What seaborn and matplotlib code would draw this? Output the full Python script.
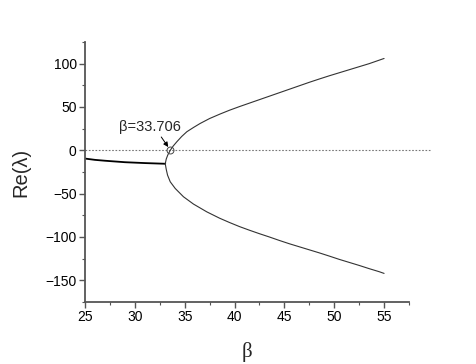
import matplotlib
matplotlib.use("Agg")
import matplotlib.pyplot as plt
import seaborn as sns
import pandas as pd
from matplotlib.ticker import MultipleLocator

# Data
beta_pre = [25.0, 26.0, 27.0, 29.0, 31.0, 33.05]
re_pre = [-9.5, -11.0, -12.0, -13.7, -14.7, -15.5]

beta_up = [33.05, 33.15, 33.3, 33.55, 33.85, 34.22, 34.7, 35.22, 35.9, 36.55, 37.5, 38.55,
           39.5, 40.5, 41.5, 42.5, 43.5, 44.5, 45.5, 46.5, 47.5, 48.5, 49.5, 50.5, 51.5,
           52.5, 53.5, 54.5, 55.0]
re_up = [-15.5, -10.0, -5.5, 0.0, 5.0, 10.0, 16.0, 21.5, 26.5, 31.0, 36.7, 41.9,
         46.3, 50.5, 54.5, 58.5, 62.5, 66.5, 70.5, 74.5, 78.5, 82.3, 86.0, 89.5, 93.0,
         96.5, 100.0, 104.0, 106.0]

beta_low = [33.05, 33.15, 33.28, 33.55, 34.05, 34.88, 35.88, 37.22, 38.5,
            39.5, 40.5, 41.5, 42.5, 43.5, 44.5, 45.5, 46.5, 47.5, 48.5, 49.5, 50.5, 51.5,
            52.5, 53.5, 54.5, 55.0]
re_low = [-15.5, -22.0, -28.6, -36.3, -44.0, -53.6, -62.0, -71.0, -78.3,
          -83.3, -88.0, -92.2, -96.2, -100.0, -104.0, -107.8, -111.3, -114.8, -118.3, -122.0, -125.8, -129.3,
          -132.8, -136.5, -140.0, -142.0]

beta_c = 33.55
label_text = "β=33.706"
xticks = [25, 30, 35, 40, 45, 50, 55]
yticks = [-150, -100, -50, 0, 50, 100]

sns.set_theme(style="ticks")
plt.rcParams["font.family"] = ["Liberation Sans", "DejaVu Sans"]

fig = plt.figure(figsize=(4.76, 3.64), dpi=100)
ax = fig.add_axes([85 / 476, 1 - 302 / 364, (409 - 85) / 476, (302 - 42) / 364])

df_pre = pd.DataFrame({"beta": beta_pre, "re": re_pre})
df_up = pd.DataFrame({"beta": beta_up, "re": re_up})
df_low = pd.DataFrame({"beta": beta_low, "re": re_low})

ax.plot([25, 59.7], [0, 0], color="#777777", lw=0.8, ls=(0, (1.5, 1.5)), clip_on=False)
sns.lineplot(data=df_pre, x="beta", y="re", ax=ax, color="black", lw=1.3, sort=False)
sns.lineplot(data=df_up, x="beta", y="re", ax=ax, color="#333333", lw=0.8, sort=False)
sns.lineplot(data=df_low, x="beta", y="re", ax=ax, color="#333333", lw=0.8, sort=False)
ax.plot([beta_c], [0], marker="o", ms=5, mfc="none", mec="#444444", mew=0.7)

ax.text(31.5, 27, label_text, ha="center", va="center", fontsize=10.5)
ax.annotate("", xy=(33.35, 3.8), xytext=(32.65, 15.4),
            arrowprops=dict(arrowstyle="-|>", color="black", lw=0.7,
                            mutation_scale=7, shrinkA=0, shrinkB=0))

ax.set_xlim(25, 57.5)
ax.set_ylim(-175, 125)
ax.set_xticks(xticks)
ax.set_yticks(yticks)
ax.xaxis.set_minor_locator(MultipleLocator(2.5))
ax.yaxis.set_minor_locator(MultipleLocator(25))
for s in ["top", "right"]:
    ax.spines[s].set_visible(False)
for s in ["left", "bottom"]:
    ax.spines[s].set_color("#555555")
    ax.spines[s].set_linewidth(1.3)
ax.tick_params(which="major", direction="out", length=4, width=1, color="#555555",
               labelsize=10, labelcolor="black", pad=2)
ax.tick_params(which="minor", direction="out", length=2.5, width=0.8, color="#555555")

ax.set_xlabel("β", fontsize=15, family=["Liberation Serif", "DejaVu Serif"], labelpad=13)
ax.set_ylabel("Re(λ)", fontsize=14.5, labelpad=11)

fig.savefig("out.png", dpi=100)
